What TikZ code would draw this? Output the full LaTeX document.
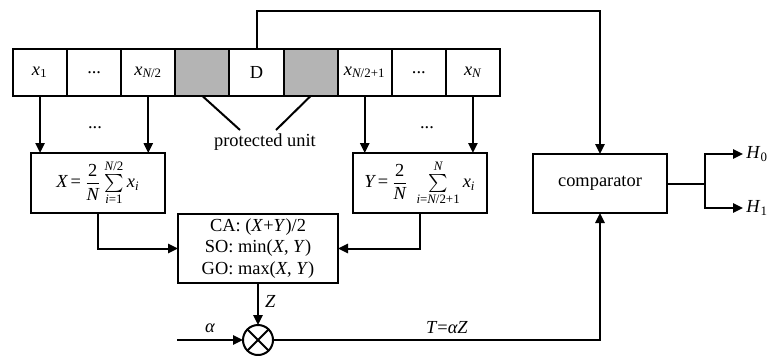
\documentclass[tikz,border=0pt]{standalone}
\usepackage{amsmath}
\usepackage{fontspec}
\setmainfont{Liberation Serif}
\usetikzlibrary{arrows.meta}
\newcommand\vi[1]{\textit{#1}}
\begin{document}
\begin{tikzpicture}[x=0.5pt,y=-0.5pt,
  every node/.style={font=\fontsize{9.2}{10.6}\selectfont},
  cell/.style={draw,line width=1pt,minimum width=27.05pt,minimum height=23.5pt,inner sep=0pt,outer sep=0pt},
  gcell/.style={cell,fill={rgb,255:red,180;green,180;blue,180}},
  blk/.style={draw,line width=1pt,inner sep=0pt,outer sep=0pt,align=center},
  conn/.style={line width=1pt,-{Triangle[length=5pt,width=4.6pt]}},
  plainline/.style={line width=1pt}]
\useasboundingbox (0,0) rectangle (776,355);
% cells
\node[cell]  (c1) at (40.06,72.5)  {$\vi{x}_{1}$};
\node[cell]  (c2) at (94.17,72.5)  {...};
\node[cell]  (c3) at (148.28,72.5) {$\vi{x}_{\vi{N}\text{/2}}$};
\node[gcell] (c4) at (202.39,72.5) {};
\node[cell]  (c5) at (256.5,72.5)  {D};
\node[gcell] (c6) at (310.61,72.5) {};
\node[cell]  (c7) at (364.72,72.5) {$\vi{x}_{\vi{N}\text{/2+1}}$};
\node[cell]  (c8) at (418.83,72.5) {...};
\node[cell]  (c9) at (472.94,72.5) {$\vi{x}_{\vi{N}}$};
% blocks
\node[blk,minimum width=67pt,minimum height=30pt] (lbox) at (98,183)
  {$\vi{X}\text{\,=\,}\dfrac{\text{2}}{\vi{N}}\sum\limits_{\vi{i}\text{=1}}^{\vi{N}\text{/2}}\vi{x}_{\vi{i}}$};
\node[blk,minimum width=67pt,minimum height=30pt] (rbox) at (420,183)
  {$\vi{Y}\text{\,=\,}\dfrac{\text{2}}{\vi{N}}\;\sum\limits_{\vi{i}\text{=}\vi{N}\text{/2+1}}^{\vi{N}}\vi{x}_{\vi{i}}$};
\node[blk,minimum width=80pt,minimum height=34.5pt] (mbox) at (258,248.5)
  {CA: (\vi{X}+\vi{Y})/2\\SO: min(\vi{X}, \vi{Y})\\GO: max(\vi{X}, \vi{Y})};
\node[blk,minimum width=67pt,minimum height=29.5pt] (comp) at (600,183.5) {comparator};
\node[draw,circle,line width=1pt,minimum size=15pt,inner sep=0pt,outer sep=0pt] (mult) at (258,340) {};
\draw[plainline] (mult.north east) -- (mult.south west) (mult.north west) -- (mult.south east);
% dots and labels
\node (d1) at (95,128) {...};
\node (d2) at (427,128) {...};
\node (pu) at (265,142) {protected unit};
\coordinate (pl) at (240,130);
\coordinate (pr) at (276,130);
\draw[plainline] (c4.south) -- (pl);
\draw[plainline] (c6.south) -- (pr);
% arrows cells -> blocks
\draw[conn] (c1.south) -- (c1.south |- lbox.north);
\draw[conn] (c3.south) -- (c3.south |- lbox.north);
\draw[conn] (c7.south) -- (c7.south |- rbox.north);
\draw[conn] (c9.south) -- (c9.south |- rbox.north);
% blocks -> middle
\draw[conn] (lbox.south) |- (mbox.west);
\draw[conn] (rbox.south) |- (mbox.east);
\draw[conn] (mbox.south) -- node[right,pos=0.45,inner sep=3pt] {\vi{Z}} (mult.north);
\coordinate (a0) at (177,340);
\draw[conn] (a0) -- (mult.west);
\node (al) at (210,328) {\vi{α}};
\draw[conn] (mult.east) -| (comp.south);
\node (tl) at (447,328) {\vi{T}=\vi{αZ}};
% feedback
\coordinate (top) at (600,11);
\draw[conn] (c5.north) |- (top) -- (comp.north);
% outputs
\coordinate (sp) at (705,183.5);
\node[anchor=west,inner sep=1.5pt] (h0) at (743,154) {\vi{H}\textsubscript{0}};
\node[anchor=west,inner sep=1.5pt] (h1) at (743,208) {\vi{H}\textsubscript{1}};
\draw[plainline] (comp.east) -- (sp);
\draw[conn] (sp) |- (h0.west);
\draw[conn] (sp) |- (h1.west);
\end{tikzpicture}
\end{document}
